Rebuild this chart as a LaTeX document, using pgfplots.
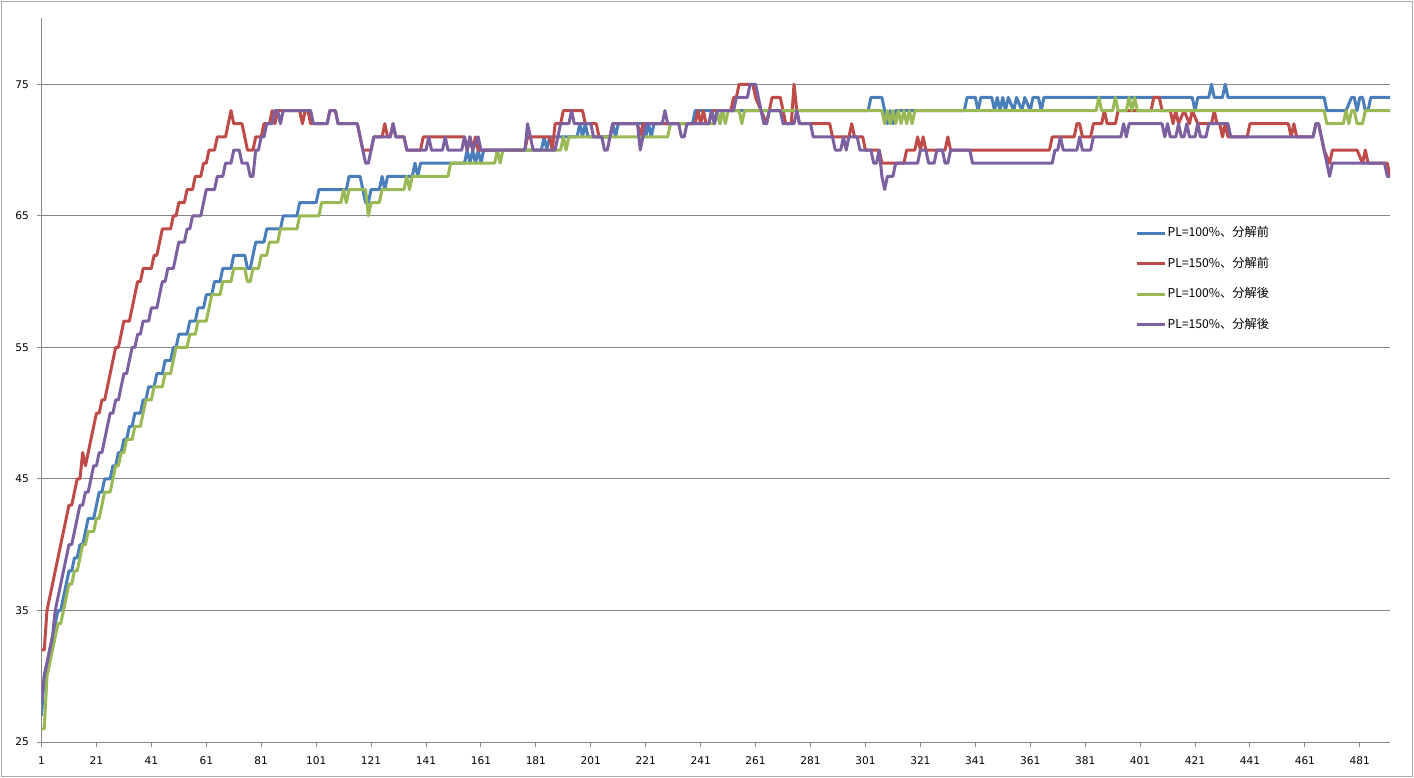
\documentclass[border=0pt]{standalone}
\usepackage{fontspec}
\setmainfont{DejaVu Sans}
\newfontfamily\cjk{Noto Sans CJK JP}
\usepackage{pgfplots}
\pgfplotsset{compat=1.18}
\definecolor{xlblue}{HTML}{4A7EBB}
\definecolor{xlred}{HTML}{BE4B48}
\definecolor{xlgreen}{HTML}{98B954}
\definecolor{xlpurple}{HTML}{7D60A0}
\definecolor{gridgray}{HTML}{868686}

\begin{document}
\begin{tikzpicture}
\useasboundingbox (0,0) rectangle (707bp,389bp);
\draw[gridgray!70, line width=0.75bp] (0.75bp,0.75bp) rectangle (706.25bp,388.25bp);
\begin{axis}[
    at={(20.75bp,18bp)}, anchor=south west,
    width=674.25bp, height=361.75bp, scale only axis,
    xmin=1, xmax=492, ymin=25, ymax=80,
    axis x line*=bottom, axis y line*=left,
    axis line style={gridgray, line width=0.5bp, -},
    xtick={1,21,...,481}, ytick={25,35,...,75},
    tick align=outside, major tick length=2.5bp,
    tick style={gridgray, line width=0.5bp},
    ymajorgrids, grid style={gridgray, line width=0.5bp},
    /pgf/number format/assume math mode=true,
    tick label style={font=\fontsize{5.3bp}{6bp}\selectfont, inner sep=0pt, text=black},
    yticklabel style={anchor=east, xshift=-3.6bp},
    xticklabel style={anchor=north, yshift=-4.85bp},
    every axis plot/.append style={line width=1.5bp, line join=round},
    legend style={at={(rel axis cs:0.811,0.714)}, anchor=north west, draw=none, fill=none,
        inner sep=0pt, row sep=7.75bp, column sep=0pt,
        font=\cjk\fontsize{6.1bp}{7bp}\selectfont,
        nodes={inner sep=0.5bp, text height=5bp, text depth=1.5bp}},
    legend cell align=left,
    legend image code/.code={\draw[#1] (0bp,0bp) -- (14bp,0bp);},
]
% PL=100%, before
\addplot[xlblue] coordinates {
(1,27)(2,30)(3,31)(4,32)(5,33)(6,34)(7,35)(8,35)(9,36)(10,37)(11,38)(12,38)(13,39)(14,39)(15,40)(16,40)(17,41)(18,42)(20,42)(21,43)(22,44)(23,44)(24,45)(26,45)(27,46)(28,46)(29,47)(30,47)(31,48)(32,48)(33,49)(34,49)(35,50)(37,50)(38,51)(39,51)(40,52)(42,52)(43,53)(45,53)(46,54)(48,54)(49,55)(50,55)(51,56)(54,56)(55,57)(57,57)(58,58)(60,58)(61,59)(63,59)(64,60)(66,60)(67,61)(70,61)(71,62)(75,62)(76,61)(77,61)(78,62)(79,63)(82,63)(83,64)(88,64)(89,65)(94,65)(95,66)(101,66)(102,67)(112,67)(113,68)(117,68)(118,67)(119,66)(120,66)(121,67)(124,67)(125,68)(126,67)(127,68)(136,68)(137,69)(138,68)(139,69)(155,69)(156,70)(157,69)(158,70)(159,69)(160,70)(161,69)(162,70)(183,70)(184,71)(185,70)(186,71)(196,71)(197,72)(198,71)(199,72)(200,71)(208,71)(209,72)(210,71)(211,72)(220,72)(221,71)(222,72)(223,71)(224,72)(238,72)(239,73)(245,73)(246,72)(247,73)(248,72)(249,73)(302,73)(303,74)(307,74)(308,73)(309,72)(310,73)(311,72)(312,73)(337,73)(338,74)(341,74)(342,73)(343,74)(347,74)(348,73)(349,74)(350,73)(351,74)(352,73)(353,74)(355,73)(356,74)(358,73)(359,74)(361,73)(362,74)(364,74)(365,73)(366,74)(420,74)(421,73)(422,74)(426,74)(427,75)(428,74)(431,74)(432,75)(433,74)(468,74)(469,73)(476,73)(478,74)(479,74)(480,73)(481,74)(482,74)(483,73)(484,73)(485,74)(492,74)
};
\addlegendentry{PL=100\%、分解前}
% PL=150%, before
\addplot[xlred] coordinates {
(1,32)(2,32)(3,35)(4,36)(5,37)(6,38)(7,39)(8,40)(9,41)(10,42)(11,43)(12,43)(13,44)(14,45)(15,45)(16,47)(17,46)(18,47)(19,48)(20,49)(21,50)(22,50)(23,51)(24,51)(25,52)(26,53)(27,54)(28,55)(29,55)(30,56)(31,57)(33,57)(34,58)(35,59)(36,60)(37,60)(38,61)(41,61)(42,62)(43,62)(44,63)(45,64)(48,64)(49,65)(50,65)(51,66)(53,66)(54,67)(56,67)(57,68)(59,68)(60,69)(61,69)(62,70)(64,70)(65,71)(68,71)(69,72)(70,73)(71,72)(74,72)(75,71)(76,70)(78,70)(79,71)(81,71)(82,72)(84,72)(85,73)(86,72)(87,73)(95,73)(96,72)(97,73)(98,73)(99,72)(105,72)(106,73)(108,73)(109,72)(116,72)(117,71)(118,70)(121,70)(122,71)(125,71)(126,72)(127,71)(128,71)(129,72)(130,71)(133,71)(134,70)(139,70)(140,71)(155,71)(156,70)(157,71)(158,70)(159,71)(160,70)(177,70)(178,71)(186,71)(187,70)(188,72)(190,72)(191,73)(198,73)(199,72)(203,72)(204,71)(208,71)(209,72)(218,72)(219,71)(220,72)(239,72)(240,73)(241,72)(242,73)(243,72)(244,72)(245,73)(252,73)(253,74)(254,74)(255,75)(260,75)(261,74)(263,73)(265,72)(266,73)(267,74)(270,74)(271,73)(272,72)(274,72)(275,75)(276,73)(277,72)(288,72)(289,71)(295,71)(296,72)(297,71)(300,71)(301,70)(306,70)(307,69)(315,69)(316,70)(319,70)(320,71)(321,70)(322,71)(323,70)(330,70)(331,71)(332,70)(368,70)(369,71)(377,71)(378,72)(379,72)(380,71)(383,71)(384,72)(387,72)(388,73)(389,72)(392,72)(393,73)(405,73)(406,74)(408,74)(409,73)(412,73)(413,72)(414,73)(415,72)(417,73)(419,72)(420,73)(422,72)(427,72)(428,73)(429,72)(430,72)(431,71)(432,72)(433,71)(440,71)(441,72)(455,72)(456,71)(457,72)(458,71)(464,71)(465,72)(466,72)(467,71)(468,70)(470,69)(471,70)(480,70)(482,69)(483,70)(484,69)(491,69)(492,68)
};
\addlegendentry{PL=150\%、分解前}
% PL=100%, after
\addplot[xlgreen] coordinates {
(1,26)(2,26)(3,30)(4,31)(5,32)(6,33)(7,34)(8,34)(9,35)(10,36)(11,37)(12,37)(13,38)(14,38)(15,39)(16,40)(17,40)(18,41)(20,41)(21,42)(22,42)(23,43)(24,44)(26,44)(27,45)(28,46)(29,46)(30,47)(31,47)(32,48)(34,48)(35,49)(37,49)(38,50)(39,51)(41,51)(42,52)(45,52)(46,53)(48,53)(49,54)(50,55)(54,55)(55,56)(57,56)(58,57)(61,57)(62,58)(63,59)(66,59)(67,60)(70,60)(71,61)(75,61)(76,60)(77,60)(78,61)(80,61)(81,62)(83,62)(84,63)(87,63)(88,64)(94,64)(95,65)(102,65)(103,66)(110,66)(111,67)(112,66)(113,67)(119,67)(120,65)(121,66)(124,66)(125,67)(133,67)(134,68)(135,67)(136,68)(149,68)(150,69)(166,69)(167,70)(168,69)(169,70)(190,70)(191,71)(192,70)(193,71)(229,71)(230,72)(246,72)(247,73)(248,72)(249,73)(250,72)(251,73)(255,73)(256,72)(257,73)(307,73)(308,72)(309,73)(310,72)(311,73)(312,72)(313,73)(314,72)(315,73)(316,72)(317,73)(318,72)(319,73)(385,73)(386,74)(387,73)(391,73)(392,74)(393,73)(396,73)(397,74)(398,73)(399,74)(400,73)(468,73)(469,72)(475,72)(476,73)(477,72)(478,73)(479,73)(480,72)(482,72)(483,73)(492,73)
};
\addlegendentry{PL=100\%、分解後}
% PL=150%, after
\addplot[xlpurple] coordinates {
(1,28)(2,30)(3,31)(4,32)(5,33)(6,35)(7,36)(8,37)(9,38)(10,39)(11,40)(12,40)(13,41)(14,42)(15,43)(16,43)(17,44)(18,44)(19,45)(20,46)(21,46)(22,47)(23,47)(24,48)(25,49)(26,50)(27,50)(28,51)(29,51)(30,52)(31,53)(32,53)(33,54)(34,55)(35,55)(36,56)(37,56)(38,57)(40,57)(41,58)(43,58)(44,59)(45,60)(46,60)(47,61)(49,61)(50,62)(51,63)(53,63)(54,64)(55,64)(56,65)(59,65)(60,66)(61,67)(64,67)(65,68)(67,68)(68,69)(70,69)(71,70)(73,70)(74,69)(76,69)(77,68)(78,68)(79,70)(80,70)(81,71)(82,71)(83,72)(85,72)(86,73)(87,73)(88,72)(89,73)(99,73)(100,72)(105,72)(106,73)(108,73)(109,72)(116,72)(117,71)(118,70)(119,69)(120,69)(121,70)(122,71)(128,71)(129,72)(130,71)(133,71)(134,70)(141,70)(142,71)(143,70)(147,70)(148,71)(149,70)(154,70)(155,71)(156,70)(157,71)(158,70)(160,71)(161,70)(177,70)(178,72)(179,71)(180,70)(188,70)(189,71)(190,72)(193,72)(194,73)(195,72)(201,72)(202,71)(205,71)(206,70)(207,70)(208,71)(209,72)(218,72)(219,70)(220,71)(221,72)(227,72)(228,73)(229,72)(233,72)(234,71)(235,71)(236,72)(244,72)(245,73)(246,72)(247,73)(253,73)(254,74)(258,74)(259,75)(261,75)(262,74)(263,73)(264,72)(265,72)(266,73)(270,73)(271,72)(275,72)(276,73)(277,72)(281,72)(282,71)(289,71)(290,70)(292,70)(293,71)(294,70)(295,71)(298,71)(299,70)(303,70)(304,69)(305,69)(306,70)(307,68)(308,67)(309,68)(311,68)(312,69)(320,69)(321,70)(323,70)(324,69)(326,69)(327,70)(329,70)(330,69)(331,69)(332,70)(339,70)(340,69)(369,69)(370,70)(371,70)(372,71)(373,70)(378,70)(379,71)(380,70)(383,70)(384,71)(394,71)(395,72)(396,71)(397,72)(409,72)(410,71)(411,72)(412,71)(414,71)(415,72)(416,71)(417,71)(418,72)(419,71)(421,71)(422,72)(423,71)(425,71)(426,72)(433,72)(434,71)(464,71)(465,72)(466,72)(467,71)(468,70)(469,69)(470,68)(471,69)(490,69)(491,68)(492,68)
};
\addlegendentry{PL=150\%、分解後}
\end{axis}
\end{tikzpicture}
\end{document}
